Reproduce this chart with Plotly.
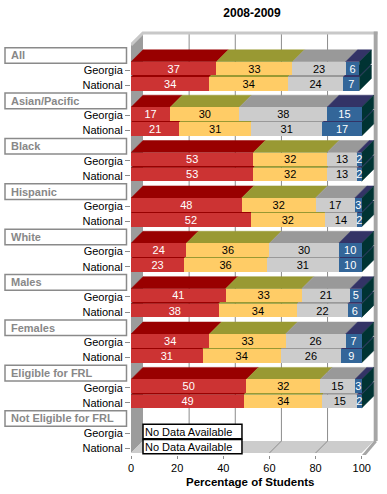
import plotly.graph_objects as go

# ---------------- data ----------------
groups = ["All", "Asian/Pacific", "Black", "Hispanic", "White", "Males",
          "Females", "Eligible for FRL", "Not Eligible for FRL"]
row_labels = ["Georgia", "National"]
level_names = ["Level 1", "Level 2", "Level 3", "Level 4"]

georgia_l1 = [37, 17, 53, 48, 24, 41, 34, 50, None]
georgia_l2 = [33, 30, 32, 32, 36, 33, 33, 32, None]
georgia_l3 = [23, 38, 13, 17, 30, 21, 26, 15, None]
georgia_l4 = [6, 15, 2, 3, 10, 5, 7, 3, None]

national_l1 = [34, 21, 53, 52, 23, 38, 31, 49, None]
national_l2 = [34, 31, 32, 32, 36, 34, 34, 34, None]
national_l3 = [24, 31, 13, 14, 31, 22, 26, 15, None]
national_l4 = [7, 17, 2, 2, 10, 6, 9, 2, None]

x_ticks = [0, 20, 40, 60, 80, 100]
title_text = "2008-2009"
x_title = "Percentage of Students"
no_data_text = "No Data Available"

# ---------------- style ----------------
FONT = "Liberation Sans, Arial, sans-serif"
front_colors = ["#CC3333", "#FFCC66", "#CCCCCC", "#336699"]
top_colors = ["#990000", "#999933", "#999999", "#333366"]
side_color = "#003333"
text_colors = ["white", "black", "black", "white"]

DX = 5.2      # depth offset in x units
DY = 0.794    # depth offset in row units
W = 0.9       # bar thickness (rows)
Y_BACK_TOP = -1.36
Y_FRONT_TOP = Y_BACK_TOP + DY
Y_FRONT_FLOOR = 26.42
Y_BACK_FLOOR = Y_FRONT_FLOOR - DY
X_MAX = 100

georgia = [georgia_l1, georgia_l2, georgia_l3, georgia_l4]
national = [national_l1, national_l2, national_l3, national_l4]
n = len(groups)


def rows_for(offset):
    return [3 * g + offset for g in range(n)]


fig = go.Figure()


def add_faces(series, offset):
    tops = [([], []) for _ in range(4)]
    sx, sy = [], []
    for g in range(n):
        vals = [s[g] for s in series]
        if any(v is None for v in vals):
            continue
        y = 3 * g + offset
        yt, yb = y - W / 2, y + W / 2
        start = 0
        for k, v in enumerate(vals):
            end = start + v
            tops[k][0].extend([start, end, end + DX, start + DX, start, None])
            tops[k][1].extend([yt, yt, yt - DY, yt - DY, yt, None])
            start = end
        sx.extend([start, start + DX, start + DX, start, start, None])
        sy.extend([yt, yt - DY, yb - DY, yb, yt, None])
    for k in range(4):
        fig.add_trace(go.Scatter(
            x=tops[k][0], y=tops[k][1], mode="lines", fill="toself",
            fillcolor=top_colors[k], line=dict(color=top_colors[k], width=0.5),
            hoverinfo="skip", showlegend=False, zorder=0))
    fig.add_trace(go.Scatter(
        x=sx, y=sy, mode="lines", fill="toself", fillcolor=side_color,
        line=dict(color=side_color, width=0.5),
        hoverinfo="skip", showlegend=False, zorder=0))


add_faces(national, 2)
add_faces(georgia, 1)

for k in range(4):
    xs = georgia[k] + national[k]
    ys = rows_for(1) + rows_for(2)
    fig.add_trace(go.Bar(
        x=xs, y=ys, orientation="h", width=W, name=level_names[k],
        marker=dict(color=front_colors[k], line=dict(width=0)),
        text=["" if v is None else str(v) for v in xs],
        textposition="inside", insidetextanchor="middle", textangle=0,
        textfont=dict(color=text_colors[k], size=11, family=FONT),
        hoverinfo="skip", showlegend=False, zorder=1))

shapes = []
# left wall
shapes.append(dict(type="path", layer="below", xref="x", yref="y",
                   path=f"M 0,{Y_FRONT_TOP} L {DX},{Y_BACK_TOP} L {DX},{Y_BACK_FLOOR} L 0,{Y_FRONT_FLOOR} Z",
                   fillcolor="#9C9C9C", line=dict(width=0)))
# floor
shapes.append(dict(type="path", layer="below", xref="x", yref="y",
                   path=f"M 0,{Y_FRONT_FLOOR} L {X_MAX},{Y_FRONT_FLOOR} L {X_MAX + DX},{Y_BACK_FLOOR} L {DX},{Y_BACK_FLOOR} Z",
                   fillcolor="#CCCCCC", line=dict(width=0)))
# back wall gridlines + floor lines
for v in x_ticks[1:-1]:
    shapes.append(dict(type="line", layer="below", xref="x", yref="y",
                       x0=v + DX, x1=v + DX, y0=Y_BACK_TOP, y1=Y_BACK_FLOOR,
                       line=dict(color="#8C8C8C", width=1)))
    shapes.append(dict(type="line", layer="below", xref="x", yref="y",
                       x0=v, x1=v + DX, y0=Y_FRONT_FLOOR, y1=Y_BACK_FLOOR,
                       line=dict(color="#8C8C8C", width=1)))
# top rim
shapes.append(dict(type="path", layer="below", xref="x", yref="y",
                   path=f"M 0,{Y_FRONT_TOP} L {DX},{Y_BACK_TOP} L {X_MAX + DX + 1.7},{Y_BACK_TOP}",
                   line=dict(color="#C8C8C8", width=3)))
# right rim
shapes.append(dict(type="rect", layer="below", xref="x", yref="y",
                   x0=X_MAX + DX, x1=X_MAX + DX + 1.7, y0=Y_BACK_TOP - 0.1, y1=Y_BACK_FLOOR,
                   fillcolor="#A6A6A6", line=dict(width=0)))
shapes.append(dict(type="line", layer="below", xref="x", yref="y",
                   x0=X_MAX + DX + 0.9, y0=Y_BACK_FLOOR, x1=X_MAX + 0.6, y1=Y_FRONT_FLOOR + 0.2,
                   line=dict(color="#A6A6A6", width=3)))

annotations = []
PLOT_L, PLOT_R = 131, 380
PW = PLOT_R - PLOT_L


def px_to_paper(px):
    return (px - PLOT_L) / PW


# group label boxes
for g, name in enumerate(groups):
    y = 3 * g
    shapes.append(dict(type="rect", xref="paper", yref="y",
                       x0=px_to_paper(5), x1=px_to_paper(126.5), y0=y - 0.38, y1=y + 0.65,
                       fillcolor="white", line=dict(color="#8A8A8A", width=1.5)))
    annotations.append(dict(xref="paper", yref="y", x=px_to_paper(8.5), y=y + 0.13,
                            xanchor="left", yanchor="middle", showarrow=False,
                            text=f"<b>{name}</b>",
                            font=dict(size=11, color="#888888", family=FONT)))

# no data boxes
for g in range(n):
    if georgia_l1[g] is None:
        for off in (1, 2):
            y = 3 * g + off
            shapes.append(dict(type="rect", xref="x", yref="y",
                               x0=DX, x1=48.1, y0=y - 0.48, y1=y + 0.47,
                               fillcolor="white", line=dict(color="black", width=1.5)))
            annotations.append(dict(xref="x", yref="y", x=DX + 0.2, y=y,
                                    xanchor="left", yanchor="middle", showarrow=False,
                                    text=no_data_text,
                                    font=dict(size=11, color="black", family=FONT)))

# axis title
annotations.append(dict(xref="paper", yref="paper", x=px_to_paper(250), y=-(481.7 - 455) / 425,
                        xanchor="center", yanchor="middle", showarrow=False,
                        text=f"<b>{x_title}</b>",
                        font=dict(size=11.5, color="black", family=FONT)))

tickvals = []
ticktext = []
for g in range(n):
    tickvals += [3 * g + 1.1, 3 * g + 2.1]
    ticktext += row_labels

fig.update_layout(
    width=387, height=494,
    margin=dict(l=PLOT_L, r=387 - PLOT_R, t=30, b=39, autoexpand=False),
    paper_bgcolor="white", plot_bgcolor="white",
    barmode="stack", bargap=0,
    showlegend=False,
    title=dict(text=f"<b>{title_text}</b>", x=252 / 387,
               xanchor="center", y=1 - 13 / 494, yanchor="middle", yref="container",
               xref="container",
               font=dict(size=12, color="black", family=FONT)),
    uniformtext=dict(mode="show", minsize=11),
    xaxis=dict(range=[0, PW / 2.307], tickvals=x_ticks, showgrid=False, zeroline=False,
               showline=False, ticks="outside", ticklen=3, tickcolor="#8C8C8C",
               tickfont=dict(size=11, color="black", family=FONT), fixedrange=True),
    yaxis=dict(range=[26.55, -1.554], tickvals=tickvals, ticktext=ticktext,
               showgrid=False, zeroline=False, showline=False,
               ticks="outside", ticklen=5, tickcolor="#8C8C8C",
               tickfont=dict(size=11, color="black", family=FONT), fixedrange=True),
    shapes=shapes, annotations=annotations,
)

fig.write_html("out.html",
               config={"displayModeBar": False, "staticPlot": True},
               post_script="document.body.style.margin='0';document.body.style.overflow='hidden';")
